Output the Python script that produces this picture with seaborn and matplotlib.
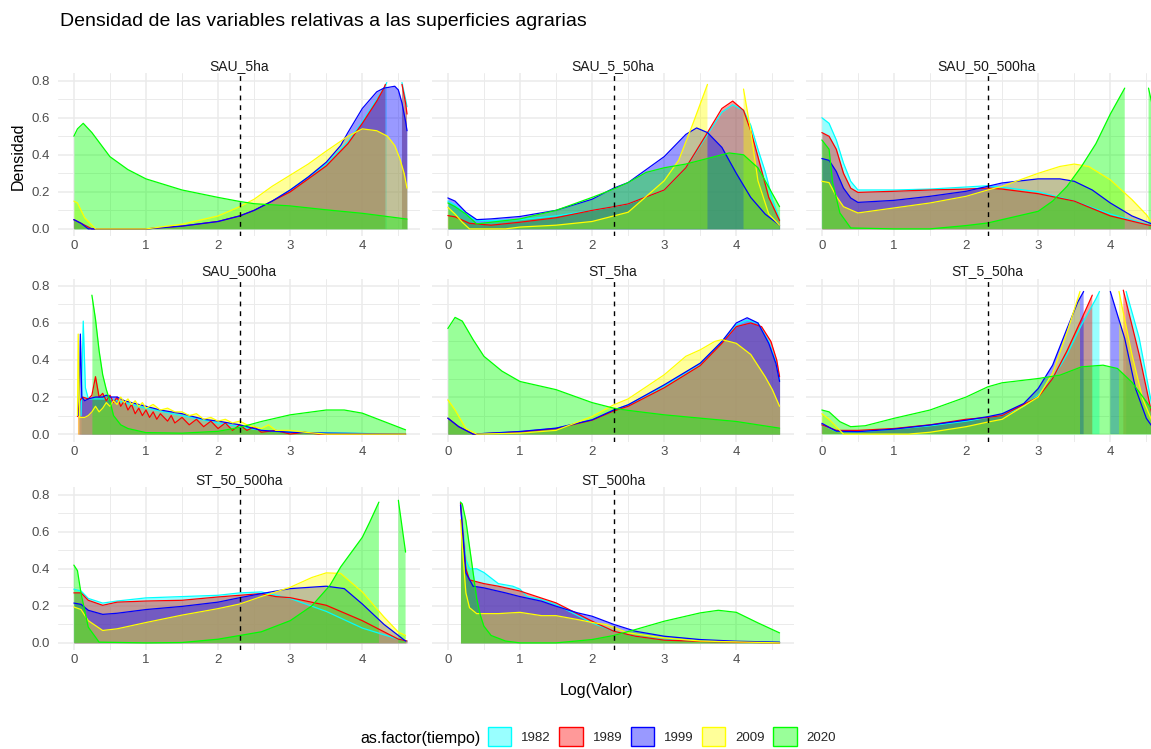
import numpy as np
import pandas as pd
import matplotlib
matplotlib.use("Agg")
import matplotlib.pyplot as plt
from matplotlib.patches import Patch
from matplotlib.colors import to_rgba
import seaborn as sns

# ---------------------------------------------------------------------------
# Data: estimated density curves, (log value, density) per variable and year
# ---------------------------------------------------------------------------
years = ["1982", "1989", "1999", "2009", "2020"]
year_colors = ["#00FFFF", "#FF0000", "#0000FF", "#FFFF00", "#00FF00"]
panel_names = ["SAU_5ha", "SAU_5_50ha", "SAU_50_500ha", "SAU_500ha",
               "ST_5ha", "ST_5_50ha", "ST_50_500ha", "ST_500ha"]
x_ticks = [0, 1, 2, 3, 4]
y_ticks = [0.0, 0.2, 0.4, 0.6, 0.8]
y_limit = 0.8
threshold = np.log(10)

# SAU_5ha
sau5_1982 = [(0, 0.05), (0.1, 0.03), (0.25, 0.0), (1.0, 0.0), (1.5, 0.015), (2.0, 0.04), (2.3, 0.07),
             (2.5, 0.10), (2.75, 0.15), (3.0, 0.21), (3.25, 0.28), (3.5, 0.35), (3.8, 0.47), (4.0, 0.58),
             (4.2, 0.70), (4.3, 0.76), (4.34, 0.79), (4.36, 0.82), (4.45, 0.86), (4.52, 0.82), (4.55, 0.79),
             (4.6, 0.70), (4.62, 0.66)]
sau5_1989 = [(0, 0.05), (0.1, 0.03), (0.25, 0.0), (1.0, 0.0), (1.5, 0.015), (2.0, 0.04), (2.3, 0.07),
             (2.5, 0.10), (2.75, 0.15), (3.0, 0.20), (3.25, 0.27), (3.5, 0.34), (3.8, 0.46), (4.0, 0.57),
             (4.2, 0.69), (4.3, 0.76), (4.32, 0.78), (4.35, 0.82), (4.45, 0.86), (4.53, 0.81), (4.55, 0.78),
             (4.6, 0.68), (4.62, 0.62)]
sau5_1999 = [(0, 0.05), (0.1, 0.03), (0.2, 0.0), (1.0, 0.0), (1.5, 0.015), (2.0, 0.04), (2.3, 0.07),
             (2.5, 0.10), (2.75, 0.15), (3.0, 0.21), (3.25, 0.28), (3.5, 0.36), (3.7, 0.45), (3.8, 0.52),
             (4.0, 0.65), (4.2, 0.74), (4.3, 0.76), (4.45, 0.77), (4.5, 0.75), (4.55, 0.68), (4.6, 0.58),
             (4.62, 0.53)]
sau5_2009 = [(0, 0.15), (0.05, 0.14), (0.15, 0.06), (0.3, 0.0), (1.0, 0.0), (1.5, 0.025), (2.0, 0.07),
             (2.3, 0.12), (2.5, 0.16), (2.75, 0.23), (3.0, 0.29), (3.25, 0.35), (3.5, 0.42), (3.8, 0.50),
             (4.0, 0.54), (4.2, 0.53), (4.35, 0.50), (4.45, 0.45), (4.52, 0.38), (4.58, 0.30), (4.62, 0.22)]
sau5_2020 = [(0, 0.50), (0.05, 0.54), (0.13, 0.57), (0.25, 0.52), (0.5, 0.39), (0.75, 0.32), (1.0, 0.27),
             (1.5, 0.21), (2.0, 0.17), (2.3, 0.148), (2.5, 0.136), (3.0, 0.124), (3.5, 0.103), (4.0, 0.084),
             (4.62, 0.053)]

# SAU_5_50ha
sau5_50_1982 = [(0, 0.15), (0.1, 0.13), (0.25, 0.08), (0.4, 0.045), (0.6, 0.045), (1.0, 0.05), (1.5, 0.07),
                (2.0, 0.10), (2.3, 0.12), (2.5, 0.135), (3.0, 0.21), (3.3, 0.33), (3.6, 0.51), (3.8, 0.63),
                (3.95, 0.67), (4.1, 0.64), (4.2, 0.56), (4.3, 0.43), (4.4, 0.31), (4.5, 0.16), (4.6, 0.05)]
sau5_50_1989 = [(0, 0.072), (0.1, 0.065), (0.3, 0.03), (0.6, 0.02), (1.0, 0.036), (1.5, 0.06), (2.0, 0.10),
                (2.3, 0.12), (2.5, 0.135), (3.0, 0.21), (3.3, 0.33), (3.6, 0.52), (3.8, 0.65), (3.95, 0.69),
                (4.1, 0.64), (4.2, 0.53), (4.3, 0.39), (4.45, 0.17), (4.6, 0.045)]
sau5_50_1999 = [(0, 0.167), (0.1, 0.15), (0.25, 0.09), (0.4, 0.05), (0.6, 0.054), (1.0, 0.067), (1.5, 0.10),
                (2.0, 0.16), (2.3, 0.22), (2.5, 0.25), (3.0, 0.39), (3.3, 0.51), (3.45, 0.545), (3.6, 0.52),
                (3.8, 0.44), (4.0, 0.30), (4.2, 0.17), (4.4, 0.08), (4.6, 0.02)]
sau5_50_2009 = [(0, 0.117), (0.1, 0.08), (0.2, 0.036), (0.3, 0.0), (0.8, 0.0), (1.0, 0.01), (1.5, 0.02),
                (2.0, 0.04), (2.3, 0.07), (2.5, 0.09), (3.0, 0.26), (3.2, 0.37), (3.4, 0.57), (3.6, 0.78),
                (3.62, 0.82), (3.85, 1.05), (4.07, 0.82), (4.1, 0.755), (4.2, 0.53), (4.3, 0.26), (4.45, 0.08),
                (4.6, 0.02)]
sau5_50_2020 = [(0, 0.14), (0.1, 0.12), (0.25, 0.08), (0.4, 0.027), (0.6, 0.036), (1.0, 0.054), (1.5, 0.10),
                (2.0, 0.17), (2.3, 0.215), (2.5, 0.25), (2.75, 0.305), (3.0, 0.33), (3.3, 0.35), (3.6, 0.38),
                (3.9, 0.41), (4.1, 0.40), (4.3, 0.33), (4.5, 0.19), (4.6, 0.12)]

# SAU_50_500ha
sau50_500_1982 = [(0, 0.60), (0.1, 0.57), (0.2, 0.48), (0.3, 0.355), (0.4, 0.257), (0.5, 0.21), (1.0, 0.21),
                  (1.5, 0.215), (2.0, 0.226), (2.3, 0.233), (2.5, 0.225), (3.0, 0.20), (3.5, 0.15), (4.0, 0.08),
                  (4.6, 0.015)]
sau50_500_1989 = [(0, 0.52), (0.1, 0.50), (0.2, 0.43), (0.3, 0.30), (0.4, 0.22), (0.5, 0.197), (1.0, 0.203),
                  (1.5, 0.21), (2.0, 0.215), (2.3, 0.22), (2.5, 0.215), (3.0, 0.19), (3.5, 0.15), (4.0, 0.07),
                  (4.5, 0.023), (4.6, 0.015)]
sau50_500_1999 = [(0, 0.38), (0.1, 0.37), (0.2, 0.31), (0.3, 0.22), (0.4, 0.167), (0.5, 0.143), (1.0, 0.154),
                  (1.5, 0.176), (2.0, 0.203), (2.3, 0.23), (2.5, 0.248), (3.0, 0.27), (3.3, 0.27), (3.5, 0.257),
                  (3.75, 0.21), (4.0, 0.14), (4.3, 0.07), (4.6, 0.023)]
sau50_500_2009 = [(0, 0.257), (0.1, 0.25), (0.2, 0.176), (0.3, 0.12), (0.5, 0.086), (1.0, 0.113), (1.5, 0.14),
                  (2.0, 0.176), (2.3, 0.21), (2.5, 0.23), (3.0, 0.30), (3.3, 0.337), (3.5, 0.35), (3.7, 0.337),
                  (4.0, 0.265), (4.3, 0.158), (4.5, 0.077), (4.6, 0.023)]
sau50_500_2020 = [(0, 0.48), (0.1, 0.43), (0.15, 0.25), (0.25, 0.086), (0.4, 0.005), (1.0, 0.0), (1.5, 0.0),
                  (2.0, 0.018), (2.3, 0.032), (2.5, 0.05), (2.8, 0.077), (3.0, 0.095), (3.2, 0.15), (3.4, 0.23),
                  (3.6, 0.337), (3.8, 0.46), (4.0, 0.62), (4.2, 0.76), (4.23, 0.81), (4.38, 1.0), (4.5, 0.82),
                  (4.53, 0.76), (4.62, 0.60)]

# SAU_500ha
sau500_1982 = [(0.1, 0.10), (0.13, 0.61), (0.16, 0.25), (0.2, 0.19), (0.3, 0.19), (0.5, 0.19), (0.8, 0.16),
               (1.0, 0.14), (1.5, 0.10), (2.0, 0.06), (2.3, 0.04), (2.6, 0.02), (3.0, 0.01), (4.6, 0.0)]
sau500_1989 = [(0.05, 0.095), (0.08, 0.18), (0.12, 0.20), (0.2, 0.19), (0.25, 0.21), (0.3, 0.31), (0.35, 0.20),
               (0.4, 0.22), (0.45, 0.18), (0.5, 0.21), (0.55, 0.17), (0.6, 0.20), (0.65, 0.15), (0.7, 0.18),
               (0.75, 0.13), (0.8, 0.16), (0.85, 0.11), (0.9, 0.14), (0.95, 0.10), (1.0, 0.13), (1.05, 0.09),
               (1.1, 0.12), (1.15, 0.08), (1.2, 0.11), (1.3, 0.07), (1.35, 0.10), (1.4, 0.06), (1.5, 0.09),
               (1.6, 0.05), (1.7, 0.08), (1.8, 0.04), (1.9, 0.07), (2.0, 0.03), (2.1, 0.06), (2.2, 0.02),
               (2.3, 0.05), (2.4, 0.02), (2.5, 0.04), (2.6, 0.01), (2.8, 0.02), (3.0, 0.0), (3.2, 0.01),
               (3.4, 0.0), (4.6, 0.0)]
sau500_1999 = [(0.07, 0.10), (0.09, 0.54), (0.11, 0.20), (0.15, 0.18), (0.2, 0.19), (0.3, 0.20), (0.4, 0.20),
               (0.45, 0.21), (0.5, 0.20), (0.6, 0.20), (0.7, 0.18), (0.8, 0.17), (1.0, 0.15), (1.2, 0.13),
               (1.5, 0.11), (1.8, 0.08), (2.0, 0.07), (2.3, 0.05), (2.6, 0.02), (3.0, 0.01), (3.5, 0.005),
               (4.6, 0.0)]
sau500_2009 = [(0.05, 0.10), (0.06, 0.54), (0.08, 0.09), (0.15, 0.09), (0.2, 0.10), (0.25, 0.12), (0.3, 0.15),
               (0.35, 0.12), (0.4, 0.14), (0.45, 0.17), (0.5, 0.15), (0.55, 0.18), (0.6, 0.16), (0.65, 0.20),
               (0.7, 0.17), (0.75, 0.19), (0.8, 0.16), (0.85, 0.18), (0.9, 0.15), (0.95, 0.17), (1.0, 0.14),
               (1.1, 0.16), (1.2, 0.13), (1.3, 0.14), (1.4, 0.12), (1.5, 0.12), (1.6, 0.10), (1.7, 0.11),
               (1.8, 0.08), (1.9, 0.09), (2.0, 0.07), (2.1, 0.08), (2.2, 0.06), (2.3, 0.07), (2.4, 0.05),
               (2.5, 0.04), (2.6, 0.03), (2.7, 0.05), (2.8, 0.02), (3.0, 0.02), (3.2, 0.01), (3.5, 0.0),
               (4.6, 0.0)]
sau500_2020 = [(0.25, 0.75), (0.3, 0.62), (0.35, 0.45), (0.4, 0.32), (0.45, 0.24), (0.5, 0.18), (0.55, 0.10),
               (0.65, 0.05), (0.75, 0.03), (1.0, 0.008), (1.5, 0.005), (2.0, 0.015), (2.3, 0.036), (2.6, 0.068),
               (3.0, 0.104), (3.5, 0.13), (3.75, 0.13), (4.0, 0.113), (4.3, 0.068), (4.6, 0.023)]

# ST_5ha
st5_1982 = [(0, 0.086), (0.15, 0.04), (0.35, 0.0), (1.0, 0.014), (1.5, 0.032), (2.0, 0.077), (2.3, 0.13),
            (2.5, 0.158), (3.0, 0.26), (3.5, 0.38), (3.8, 0.50), (4.0, 0.59), (4.15, 0.615), (4.3, 0.60),
            (4.45, 0.50), (4.55, 0.39), (4.6, 0.29)]
st5_1989 = [(0, 0.086), (0.15, 0.04), (0.35, 0.0), (1.0, 0.012), (1.5, 0.03), (2.0, 0.075), (2.3, 0.125),
            (2.5, 0.15), (3.0, 0.25), (3.5, 0.37), (3.8, 0.49), (4.0, 0.58), (4.2, 0.60), (4.35, 0.58),
            (4.48, 0.50), (4.56, 0.40), (4.6, 0.31)]
st5_1999 = [(0, 0.086), (0.15, 0.04), (0.35, 0.0), (1.0, 0.014), (1.5, 0.032), (2.0, 0.077), (2.3, 0.13),
            (2.5, 0.158), (3.0, 0.266), (3.5, 0.383), (3.8, 0.50), (4.0, 0.60), (4.15, 0.628), (4.3, 0.60),
            (4.45, 0.49), (4.55, 0.38), (4.6, 0.284)]
st5_2009 = [(0, 0.185), (0.1, 0.13), (0.25, 0.03), (0.4, 0.0), (1.0, 0.005), (1.5, 0.02), (2.0, 0.095),
            (2.3, 0.158), (2.5, 0.19), (3.0, 0.32), (3.3, 0.42), (3.5, 0.455), (3.7, 0.50), (3.8, 0.51),
            (4.0, 0.49), (4.2, 0.43), (4.4, 0.31), (4.5, 0.24), (4.6, 0.15)]
st5_2020 = [(0, 0.57), (0.1, 0.63), (0.2, 0.61), (0.35, 0.51), (0.5, 0.42), (0.75, 0.34), (1.0, 0.284),
            (1.5, 0.24), (2.0, 0.17), (2.3, 0.14), (2.5, 0.128), (3.0, 0.104), (3.5, 0.086), (4.0, 0.068),
            (4.6, 0.032)]

# ST_5_50ha
st5_50_1982 = [(0, 0.05), (0.2, 0.015), (0.5, 0.012), (1.0, 0.027), (1.5, 0.045), (2.0, 0.07), (2.3, 0.09),
               (2.5, 0.10), (2.8, 0.15), (3.0, 0.21), (3.2, 0.30), (3.4, 0.43), (3.6, 0.59), (3.8, 0.73),
               (3.85, 0.77), (3.9, 0.84), (4.05, 0.95), (4.2, 0.83), (4.22, 0.77), (4.4, 0.52), (4.55, 0.21),
               (4.6, 0.12)]
st5_50_1989 = [(0, 0.05), (0.2, 0.02), (0.5, 0.02), (1.0, 0.03), (1.5, 0.05), (2.0, 0.08), (2.3, 0.09),
               (2.5, 0.10), (3.0, 0.20), (3.2, 0.30), (3.4, 0.45), (3.6, 0.62), (3.75, 0.75), (3.78, 0.82),
               (4.0, 0.95), (4.15, 0.83), (4.18, 0.777), (4.4, 0.43), (4.55, 0.156), (4.6, 0.07)]
st5_50_1999 = [(0, 0.058), (0.2, 0.016), (0.5, 0.013), (1.0, 0.027), (1.5, 0.049), (2.0, 0.075), (2.3, 0.094),
               (2.5, 0.11), (2.8, 0.165), (3.0, 0.246), (3.2, 0.372), (3.4, 0.57), (3.55, 0.714), (3.63, 0.77),
               (3.66, 0.83), (3.8, 0.95), (3.97, 0.83), (4.0, 0.77), (4.2, 0.516), (4.35, 0.246), (4.5, 0.085),
               (4.6, 0.03)]
st5_50_2009 = [(0, 0.11), (0.1, 0.08), (0.3, 0.0), (1.2, 0.0), (1.5, 0.01), (2.0, 0.04), (2.3, 0.065),
               (2.5, 0.08), (3.0, 0.20), (3.2, 0.33), (3.4, 0.55), (3.58, 0.77), (3.61, 0.83), (3.85, 0.97),
               (4.09, 0.83), (4.12, 0.77), (4.3, 0.43), (4.45, 0.19), (4.6, 0.05)]
st5_50_2020 = [(0, 0.13), (0.1, 0.12), (0.25, 0.067), (0.4, 0.04), (0.6, 0.045), (1.0, 0.085), (1.5, 0.13),
               (2.0, 0.20), (2.3, 0.255), (2.5, 0.277), (3.0, 0.30), (3.3, 0.318), (3.6, 0.363), (3.9, 0.372),
               (4.1, 0.354), (4.3, 0.28), (4.5, 0.175), (4.6, 0.12)]

# ST_50_500ha
st50_500_1982 = [(0, 0.29), (0.1, 0.28), (0.2, 0.24), (0.4, 0.215), (0.6, 0.226), (1.0, 0.243), (1.5, 0.25),
                 (2.0, 0.257), (2.3, 0.27), (2.6, 0.275), (3.0, 0.24), (3.5, 0.17), (4.0, 0.08), (4.5, 0.02),
                 (4.62, 0.01)]
st50_500_1989 = [(0, 0.27), (0.1, 0.27), (0.2, 0.23), (0.4, 0.203), (0.6, 0.22), (1.0, 0.226), (1.5, 0.23),
                 (2.0, 0.248), (2.3, 0.257), (2.6, 0.266), (2.8, 0.25), (3.0, 0.244), (3.5, 0.203), (4.0, 0.12),
                 (4.5, 0.02), (4.62, 0.01)]
st50_500_1999 = [(0, 0.215), (0.1, 0.208), (0.2, 0.176), (0.4, 0.154), (0.6, 0.16), (1.0, 0.18), (1.5, 0.197),
                 (2.0, 0.22), (2.3, 0.244), (2.6, 0.266), (3.0, 0.293), (3.5, 0.306), (3.75, 0.293), (4.0, 0.21),
                 (4.3, 0.10), (4.6, 0.01)]
st50_500_2009 = [(0, 0.194), (0.1, 0.18), (0.2, 0.12), (0.4, 0.067), (0.6, 0.076), (1.0, 0.11), (1.5, 0.15),
                 (2.0, 0.185), (2.3, 0.21), (2.6, 0.25), (3.0, 0.30), (3.3, 0.353), (3.5, 0.378), (3.7, 0.375),
                 (4.0, 0.275), (4.3, 0.14), (4.5, 0.058), (4.6, 0.04)]
st50_500_2020 = [(0, 0.42), (0.05, 0.39), (0.1, 0.266), (0.2, 0.085), (0.35, 0.004), (1.0, 0.0), (1.5, 0.002),
                 (2.0, 0.02), (2.3, 0.04), (2.6, 0.06), (3.0, 0.12), (3.3, 0.20), (3.55, 0.31), (3.7, 0.41),
                 (4.0, 0.57), (4.1, 0.65), (4.23, 0.76), (4.25, 0.82), (4.38, 1.0), (4.48, 0.82), (4.5, 0.77),
                 (4.6, 0.49)]

# ST_500ha
st500_1982 = [(0.175, 0.76), (0.2, 0.665), (0.25, 0.45), (0.3, 0.40), (0.4, 0.40), (0.5, 0.38), (0.7, 0.32),
              (0.9, 0.306), (1.0, 0.29), (1.1, 0.25), (1.3, 0.234), (1.5, 0.207), (2.0, 0.108), (2.3, 0.063),
              (2.6, 0.036), (3.0, 0.018), (3.5, 0.01), (4.6, 0.0)]
st500_1989 = [(0.175, 0.755), (0.25, 0.40), (0.3, 0.34), (0.5, 0.32), (0.7, 0.306), (1.0, 0.28), (1.5, 0.216),
              (2.0, 0.117), (2.3, 0.063), (2.6, 0.036), (3.0, 0.015), (3.5, 0.008), (4.6, 0.0)]
st500_1999 = [(0.175, 0.745), (0.25, 0.378), (0.35, 0.306), (0.5, 0.297), (0.8, 0.27), (1.0, 0.25),
              (1.3, 0.225), (1.5, 0.198), (1.8, 0.162), (2.0, 0.144), (2.3, 0.10), (2.6, 0.063), (3.0, 0.036),
              (3.5, 0.018), (4.0, 0.009), (4.6, 0.004)]
st500_2009 = [(0.175, 0.665), (0.2, 0.52), (0.25, 0.27), (0.3, 0.19), (0.4, 0.158), (0.7, 0.158), (1.0, 0.165),
              (1.3, 0.147), (1.5, 0.147), (1.8, 0.126), (2.0, 0.11), (2.2, 0.099), (2.5, 0.054), (3.0, 0.027),
              (3.5, 0.01), (4.6, 0.0)]
st500_2020 = [(0.175, 0.76), (0.2, 0.75), (0.25, 0.66), (0.3, 0.52), (0.35, 0.38), (0.4, 0.24), (0.45, 0.15),
              (0.5, 0.09), (0.6, 0.04), (0.8, 0.01), (1.0, 0.0), (1.5, 0.0), (2.0, 0.018), (2.3, 0.04),
              (2.6, 0.072), (3.0, 0.117), (3.5, 0.162), (3.75, 0.176), (4.0, 0.165), (4.3, 0.108), (4.6, 0.054)]

panel_curves = [
    [sau5_1982, sau5_1989, sau5_1999, sau5_2009, sau5_2020],
    [sau5_50_1982, sau5_50_1989, sau5_50_1999, sau5_50_2009, sau5_50_2020],
    [sau50_500_1982, sau50_500_1989, sau50_500_1999, sau50_500_2009, sau50_500_2020],
    [sau500_1982, sau500_1989, sau500_1999, sau500_2009, sau500_2020],
    [st5_1982, st5_1989, st5_1999, st5_2009, st5_2020],
    [st5_50_1982, st5_50_1989, st5_50_1999, st5_50_2009, st5_50_2020],
    [st50_500_1982, st50_500_1989, st50_500_1999, st50_500_2009, st50_500_2020],
    [st500_1982, st500_1989, st500_1999, st500_2009, st500_2020],
]

# Long table: one row per curve point
rows = []
for name, curves in zip(panel_names, panel_curves):
    for year, pts in zip(years, curves):
        for x, d in pts:
            rows.append((name, year, x, d))
df = pd.DataFrame(rows, columns=["variable", "tiempo", "valor", "densidad"])

# ---------------------------------------------------------------------------
# Figure
# ---------------------------------------------------------------------------
sns.set_theme(style="white")
plt.rcParams["font.family"] = ["Liberation Sans", "DejaVu Sans"]

W, H = 1151, 749
fig = plt.figure(figsize=(W / 100, H / 100), dpi=100)
fig.patch.set_facecolor("white")

col_left = [58, 432, 806]
row_top = [73.3, 278.5, 487.3]
panel_w, panel_h = 362, 163
grid_col = "#EBEBEB"
tick_col = "#4D4D4D"

for i, name in enumerate(panel_names):
    r, c = divmod(i, 3)
    ax = fig.add_axes([col_left[c] / W, 1 - (row_top[r] + panel_h) / H, panel_w / W, panel_h / H])
    ax.set_facecolor("white")
    for s in ax.spines.values():
        s.set_visible(False)
    ax.set_xlim(-0.22, 4.8)
    ax.set_ylim(-0.04, 0.84)
    ax.set_xticks(x_ticks)
    ax.set_xticks([0.5, 1.5, 2.5, 3.5, 4.5], minor=True)
    ax.set_yticks(y_ticks)
    ax.set_yticks([0.1, 0.3, 0.5, 0.7], minor=True)
    ax.grid(which="major", color=grid_col, lw=1.1)
    ax.grid(which="minor", color=grid_col, lw=0.7)
    ax.set_axisbelow(True)
    ax.tick_params(which="both", length=0, labelsize=9.5, labelcolor=tick_col, pad=3)
    ax.tick_params(axis="y", pad=6)
    ax.set_yticklabels([f"{v:.1f}" for v in y_ticks])
    if c != 0:
        ax.tick_params(labelleft=False)

    sub = df[df["variable"] == name]
    for year, color in zip(years, year_colors):
        cur = sub[sub["tiempo"] == year].sort_values("valor").reset_index(drop=True)
        # densities above the y limit are dropped, splitting the area
        keep = (cur["densidad"] <= y_limit).to_numpy()
        yv = cur["densidad"].where(keep, 0.0).to_numpy()
        ax.fill_between(cur["valor"].to_numpy(), yv, 0, where=keep, interpolate=False,
                        color=color, alpha=0.4, lw=0)
        seg = np.cumsum(~keep)
        vis = cur[keep].assign(seg=seg[keep])
        sns.lineplot(data=vis, x="valor", y="densidad", units="seg", estimator=None,
                     color=color, lw=0.9, ax=ax, legend=False, sort=False)

    ax.axvline(threshold, color="black", lw=1.0, dashes=(3.5, 3.5))
    ax.set_xlabel("")
    ax.set_ylabel("")
    ax.text(0.5, 1 + 7 / panel_h, name, transform=ax.transAxes, ha="center", va="center",
            fontsize=10, color="#1A1A1A")

# Titles
fig.text(60 / W, 1 - 22 / H, "Densidad de las variables relativas a las superficies agrarias",
         ha="left", va="center", fontsize=14, color="black")
fig.text(18 / W, 1 - 156 / H, "Densidad", rotation=90, ha="center", va="center",
         fontsize=11.5, color="black")
fig.text(597 / W, 1 - 691 / H, "Log(Valor)", ha="center", va="center", fontsize=11.5, color="black")

# Legend
fig.text(360 / W, 1 - 738 / H, "as.factor(tiempo)", ha="left", va="center", fontsize=11.5, color="black")
handles = [Patch(facecolor=to_rgba(col, 0.4), edgecolor=col, lw=1.0) for col in year_colors]
fig.legend(handles, years, loc="center left", bbox_to_anchor=(488 / W, 1 - 736.7 / H), ncol=5,
           frameon=False, fontsize=9.5, handlelength=1.77, handleheight=1.77, handletextpad=0.76,
           columnspacing=0.63, borderpad=0, borderaxespad=0)

fig.savefig("out.png", dpi=100, facecolor="white")
